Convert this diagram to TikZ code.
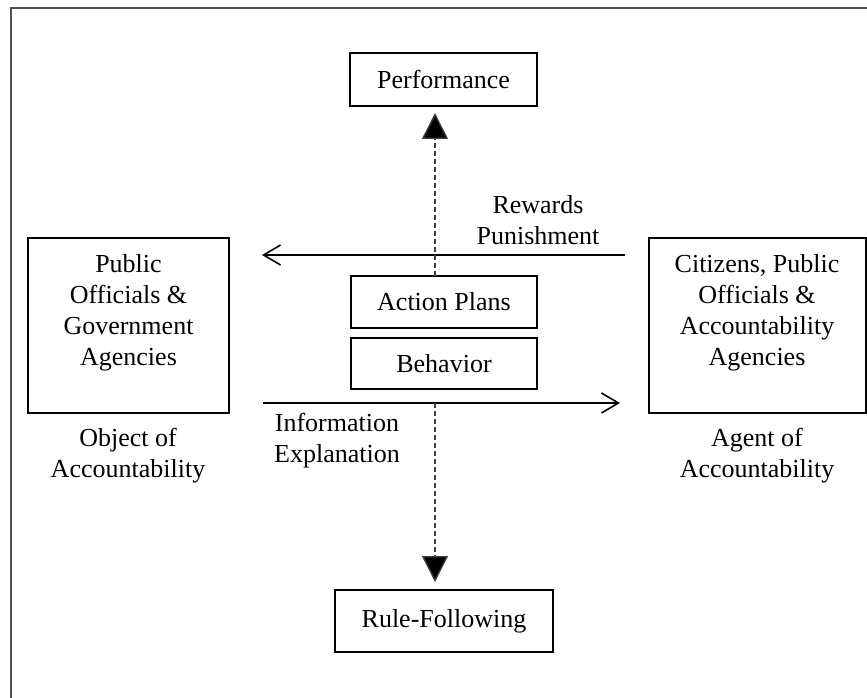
\documentclass[tikz,border=0pt]{standalone}
\usepackage{fontspec}
\setmainfont{Liberation Serif}
\usetikzlibrary{arrows.meta}
\begin{document}
\begin{tikzpicture}[x=1pt,y=-1pt,
  every node/.style={font=\fontsize{26}{31}\selectfont, inner sep=0pt},
  box/.style={draw, line width=2pt},
  framebox/.style={draw=black!68, line width=2.2pt},
  solidarrow/.style={line width=1.6pt, -{Straight Barb[length=17pt,width=20pt,line width=1.6pt]}},
  dasharrow/.style={line width=1.3pt, draw=black!75, dash pattern=on 5pt off 3pt, -{Triangle[length=26pt,width=26pt,fill=black]}}]
\useasboundingbox (0,0) rectangle (867,698);
\draw[framebox] (11,705) -- (11,8) -- (875,8);
% boxes
\node[box, minimum width=187pt, minimum height=53pt] (perf) at (443.5,79.5) {Performance};
\node[box, minimum width=186pt, minimum height=52pt] (ap) at (444,302) {Action Plans};
\node[box, minimum width=186pt, minimum height=51pt] (beh) at (444,363.5) {Behavior};
\node[box, minimum width=218pt, minimum height=62pt] (rf) at (444,621) {Rule-Following};
\node[box, minimum width=201pt, minimum height=175pt] (lb) at (128.5,325.5) {};
\node[align=center] (lt) at (128.5,313) {Public\\Officials \&\\Government\\Agencies};
\node[box, minimum width=217pt, minimum height=175pt] (rb) at (757.5,325.5) {};
\node[align=center] (rt) at (757,313) {Citizens, Public\\Officials \&\\Accountability\\Agencies};
% labels
\node[align=center] (obj) at (128,456) {Object of\\Accountability};
\node[align=center] (agt) at (757,456) {Agent of\\Accountability};
\node[align=center] (rew) at (538,220) {Rewards\\Punishment};
\node[align=center] (inf) at (337,441) {Information\\Explanation};
% arrows
\coordinate (r1) at (625,255);
\coordinate (r2) at (262,255);
\draw[solidarrow] (r1) -- (r2);
\coordinate (i1) at (263,403);
\coordinate (i2) at (620,403);
\draw[solidarrow] (i1) -- (i2);
\coordinate (ptip) at (435,113);
\coordinate (dtop) at (435,276);
\draw[dasharrow] (dtop) -- (ptip);
\coordinate (dbot) at (435,403);
\coordinate (rtip) at (435,582);
\draw[dasharrow] (dbot) -- (rtip);
\end{tikzpicture}
\end{document}
